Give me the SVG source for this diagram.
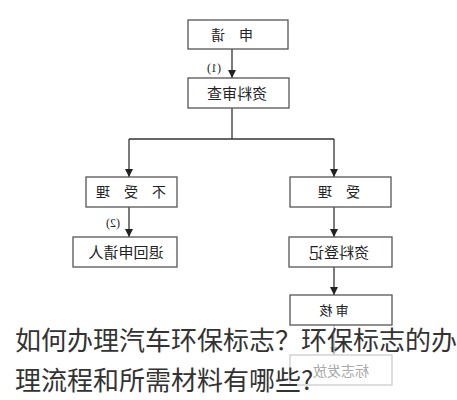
<svg xmlns="http://www.w3.org/2000/svg" width="457" height="400" viewBox="0 0 457 400">
<style>
.box{fill:#fff;stroke:#555;stroke-width:1.3}
.faint{fill:#fff;stroke:#ccc;stroke-width:1.3}
.lbl{font-family:"Noto Sans CJK SC","Noto Sans",sans-serif;font-size:14px;fill:#222;text-anchor:middle}
.num{font-family:"Liberation Serif",serif;font-size:12px;fill:#222;text-anchor:middle}
.line{stroke:#333;stroke-width:1.3;fill:none}
.cap{font-family:"Noto Sans CJK SC","Noto Sans",sans-serif;font-size:26px;fill:#333}
</style>
<defs>
<marker id="ah" viewBox="0 0 8 8" refX="8" refY="4" markerWidth="8" markerHeight="8" markerUnits="userSpaceOnUse" orient="auto">
<path d="M0,0 L8,4 L0,8 Z" fill="#222"/>
</marker>
<marker id="ahf" viewBox="0 0 8 8" refX="8" refY="4" markerWidth="8" markerHeight="8" markerUnits="userSpaceOnUse" orient="auto">
<path d="M0,0 L8,4 L0,8 Z" fill="#bbb"/>
</marker>
</defs>
<rect width="457" height="400" fill="#fff"/>
<g id="connectors">
<line class="line" x1="232" y1="49" x2="232" y2="78" marker-end="url(#ah)"/>
<polyline class="line" points="232,108 232,139"/>
<polyline class="line" points="129,139 334,139"/>
<line class="line" x1="129" y1="139" x2="129" y2="177" marker-end="url(#ah)"/>
<line class="line" x1="334" y1="139" x2="334" y2="177" marker-end="url(#ah)"/>
<line class="line" x1="129" y1="207" x2="129" y2="237" marker-end="url(#ah)"/>
<line class="line" x1="334" y1="207" x2="334" y2="237" marker-end="url(#ah)"/>
<line class="line" x1="334" y1="267" x2="334" y2="295" marker-end="url(#ah)"/>
<line x1="334" y1="325" x2="334" y2="355" stroke="#bbb" stroke-width="1.3" marker-end="url(#ahf)"/>
<text class="num" transform="translate(214,72) scale(-1,1)">(1)</text>
<text class="num" transform="translate(113,227) scale(-1,1)">(2)</text>
</g>
<g id="n-apply">
<rect class="box" x="188" y="20" width="100" height="29"/>
<text class="lbl" transform="translate(232,40) scale(-1,1)">申　请</text>
</g>
<g id="n-review">
<rect class="box" x="188" y="78" width="101" height="30"/>
<text class="lbl" font-size="15" transform="translate(237,99) scale(-1,1)" style="font-size:15px">资料审查</text>
</g>
<g id="n-reject">
<rect class="box" x="86" y="177" width="91" height="30"/>
<text class="lbl" transform="translate(131,197) scale(-1,1)">不　受　理</text>
</g>
<g id="n-return">
<rect class="box" x="73" y="237" width="104" height="30"/>
<text class="lbl" transform="translate(126,258) scale(-1,1)" style="font-size:15px">退回申请人</text>
</g>
<g id="n-accept">
<rect class="box" x="290" y="177" width="101" height="30"/>
<text class="lbl" transform="translate(339,197) scale(-1,1)">受　理</text>
</g>
<g id="n-register">
<rect class="box" x="289" y="237" width="103" height="30"/>
<text class="lbl" transform="translate(339,258) scale(-1,1)" style="font-size:15px">资料登记</text>
</g>
<g id="n-audit">
<rect class="box" x="290" y="295" width="102" height="30"/>
<text class="lbl" transform="translate(334,315) scale(-1,1)" style="font-size:13px">审 核</text>
</g>
<g id="n-issue">
<rect class="faint" x="290" y="355" width="102" height="30"/>
<text class="lbl" transform="translate(341,376) scale(-1,1)" style="fill:#aaa">标志发放</text>
</g>
<g id="caption">
<text class="cap" x="15" y="350">如何办理汽车环保标志？环保标志的办</text>
<text class="cap" x="15" y="390">理流程和所需材料有哪些?</text>
</g>
</svg>
